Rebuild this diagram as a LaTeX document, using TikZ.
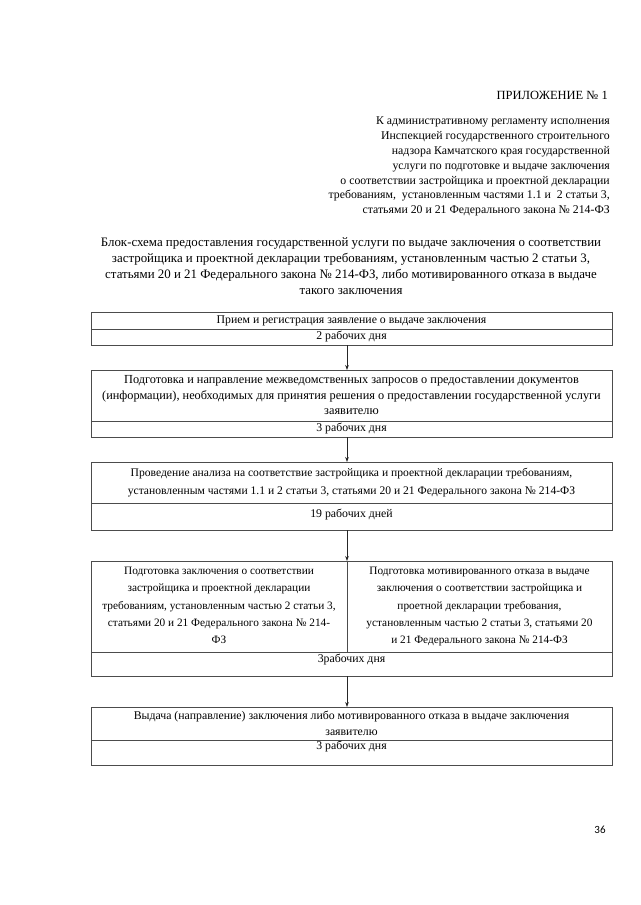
\documentclass[tikz,border=0pt]{standalone}
\usepackage{fontspec}
\setmainfont{Liberation Serif}
\newfontfamily\pagenumfont{Carlito}
\usetikzlibrary{positioning,arrows.meta}

\newcommand\cellfont[2]{\fontsize{#1}{#2}\selectfont}

\tikzset{
  cell/.style={draw=black!70, line width=0.7pt, inner xsep=0pt, inner ysep=0pt,
    outer sep=0pt, align=center, font=\cellfont{11.8}{16}},
  stage/.style={cell, minimum width=521pt, minimum height=#1},
  half/.style 2 args={cell, minimum width=#1, minimum height=#2},
  term/.style 2 args={cell, minimum width=521pt, text height=#1, text depth=#2},
  flow/.style={->, >={Stealth[length=5pt,width=3.6pt]}, line width=0.7pt, black!85},
}

\begin{document}
\begin{tikzpicture}[x=1pt,y=-1pt]
\useasboundingbox (0,0) rectangle (640,905);

% --- Heading of the appendix ---
\node[anchor=east, inner sep=0pt, font=\cellfont{12.5}{15}] (app) at (608,95)
  {ПРИЛОЖЕНИЕ № 1};
\node[anchor=north east, align=right, inner sep=0pt, font=\cellfont{11.8}{14.8}]
  (regl) at (610,117)
  {К административному регламенту исполнения\\
   Инспекцией государственного строительного\\
   надзора Камчатского края государственной\\
   услуги по подготовке и выдаче заключения\\
   о соответствии застройщика и проектной декларации\\
   требованиям,\ \ установленным частями 1.1 и\ \ 2 статьи 3,\\
   статьями 20 и 21 Федерального закона № 214-ФЗ};

% --- Title ---
\node[anchor=north, align=center, inner sep=0pt, font=\cellfont{12.9}{16}]
  (title) at (351,237)
  {Блок-схема предоставления государственной услуги по выдаче заключения о соответствии\\
   застройщика и проектной декларации требованиям, установленным частью 2 статьи 3,\\
   статьями 20 и 21 Федерального закона № 214-ФЗ, либо мотивированного отказа в выдаче\\
   такого заключения};

% --- Blocks of the procedure ---
\node[stage=17pt, anchor=north] (s1) at (351.5,312)
  {Прием и регистрация заявление о выдаче заключения};
\node[term={10.6pt}{5.4pt}, below=0pt of s1] (d1) {2 рабочих дня};

\node[stage=51pt, below=25pt of d1, font=\cellfont{12.3}{15.5}] (s2)
  {Подготовка и направление межведомственных запросов о предоставлении документов\\
   (информации), необходимых для принятия решения о предоставлении государственной услуги\\
   заявителю};
\node[term={10.6pt}{5.4pt}, below=0pt of s2] (d2) {3 рабочих дня};

\node[stage=41pt, below=25pt of d2, font=\cellfont{11.6}{18}] (s3)
  {Проведение анализа на соответствие застройщика и проектной декларации требованиям,\\
   установленным частями 1.1 и 2 статьи 3, статьями 20 и 21 Федерального закона № 214-ФЗ};
\node[term={14.6pt}{12.4pt}, below=0pt of s3] (d3) {19 рабочих дней};

% two parallel outcomes
\node[half={256pt}{91pt}, below=31pt of d3.south west, anchor=north west,
  font=\cellfont{11.3}{17.25}] (s4a)
  {Подготовка заключения о соответствии\\
   застройщика и проектной декларации\\
   требованиям, установленным частью 2 статьи 3,\\
   статьями 20 и 21 Федерального закона № 214-\\
   ФЗ\vphantom{д}};
\node[half={265pt}{91pt}, right=0pt of s4a, font=\cellfont{11.3}{17.25}] (s4b)
  {Подготовка мотивированного отказа в выдаче\\
   заключения о соответствии застройщика и\\
   проетной декларации требования,\\
   установленным частью 2 статьи 3, статьями 20\\
   и 21 Федерального закона № 214-ФЗ};
\node[term={10.6pt}{13.4pt}, below=0pt of s4a.south west, anchor=north west] (d4) {3рабочих дня};

\node[stage=33pt, below=31pt of d4] (s5)
  {Выдача (направление) заключения либо мотивированного отказа в выдаче заключения\\
   заявителю};
\node[term={9.6pt}{15.4pt}, below=0pt of s5] (d5) {3 рабочих дня};

% --- Arrows ---
\draw[flow] ([xshift=-4.5pt]d1.south) -- ([xshift=-4.5pt]s2.north);
\draw[flow] ([xshift=-4.5pt]d2.south) -- ([xshift=-4.5pt]s3.north);
\draw[flow] ([xshift=-4.5pt]d3.south) -- (s4a.north east);
\draw[flow] ([xshift=-4.5pt]d4.south) -- ([xshift=-4.5pt]s5.north);

% page number
\node[inner sep=0pt, font=\pagenumfont\fontsize{11}{13}\selectfont] (pg) at (600,830) {36};

\end{tikzpicture}
\end{document}
